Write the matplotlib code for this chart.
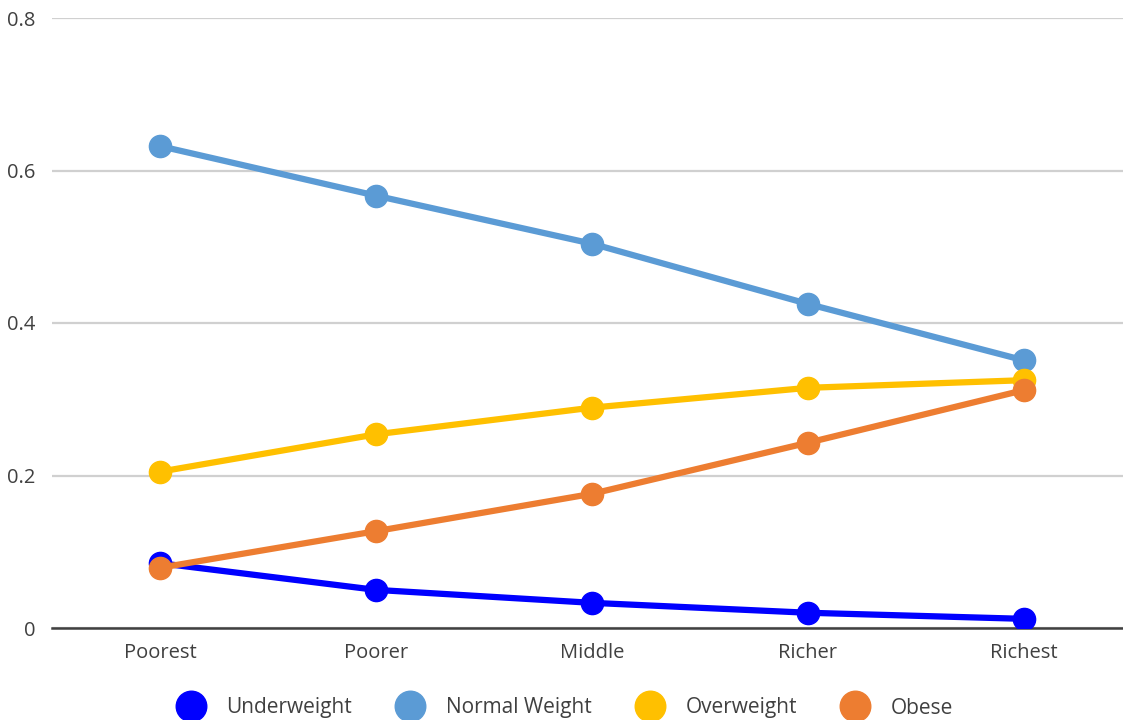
import matplotlib.pyplot as plt
from matplotlib.lines import Line2D

plt.rcParams['font.family'] = ['Open Sans', 'DejaVu Sans']

categories = ['Poorest', 'Poorer', 'Middle', 'Richer', 'Richest']
underweight = [0.085, 0.050, 0.033, 0.020, 0.012]
normal_weight = [0.632, 0.567, 0.504, 0.425, 0.351]
overweight = [0.205, 0.254, 0.289, 0.315, 0.325]
obese = [0.079, 0.127, 0.176, 0.243, 0.312]

series = [
    ('Underweight', underweight, '#0000ff'),
    ('Normal Weight', normal_weight, '#5b9bd5'),
    ('Overweight', overweight, '#ffc000'),
    ('Obese', obese, '#ed7d31'),
]

text_color = '#404040'

fig = plt.figure(figsize=(11.23, 7.2), dpi=100)
ax = fig.add_axes([52 / 1123, 1 - 628 / 720, 1080 / 1123, 610 / 720])

x = range(len(categories))
for name, vals, color in series:
    ax.plot(x, vals, color=color, lw=4.5, marker='o', markersize=16,
            solid_capstyle='round', label=name, zorder=3)

ax.set_xlim(-0.5, 4.5)
ax.set_ylim(0, 0.8)
ax.set_yticks([0, 0.2, 0.4, 0.6, 0.8])
ax.set_yticklabels(['0', '0.2', '0.4', '0.6', '0.8'])
ax.set_xticks(list(x))
ax.set_xticklabels(categories)
ax.tick_params(length=0, labelsize=14.5, colors=text_color, pad=11)
ax.tick_params(axis='y', pad=12)

ax.grid(axis='y', color='#d0d0d0', lw=1.6, zorder=0)
for side in ['top', 'right', 'left']:
    ax.spines[side].set_visible(False)
ax.spines['bottom'].set_color('#404040')
ax.spines['bottom'].set_linewidth(1.8)
ax.spines['bottom'].set_zorder(2)

handles = [Line2D([], [], ls='none', marker='o', markersize=22, color=c,
                  label=n) for n, _, c in series]
fig.legend(handles=handles, loc='center', bbox_to_anchor=(0.5, 1 - 708 / 720),
           ncol=4, frameon=False, fontsize=15, labelcolor=text_color,
           handletextpad=0.7, columnspacing=1.8)

fig.savefig('out.png', dpi=100, facecolor='white')
